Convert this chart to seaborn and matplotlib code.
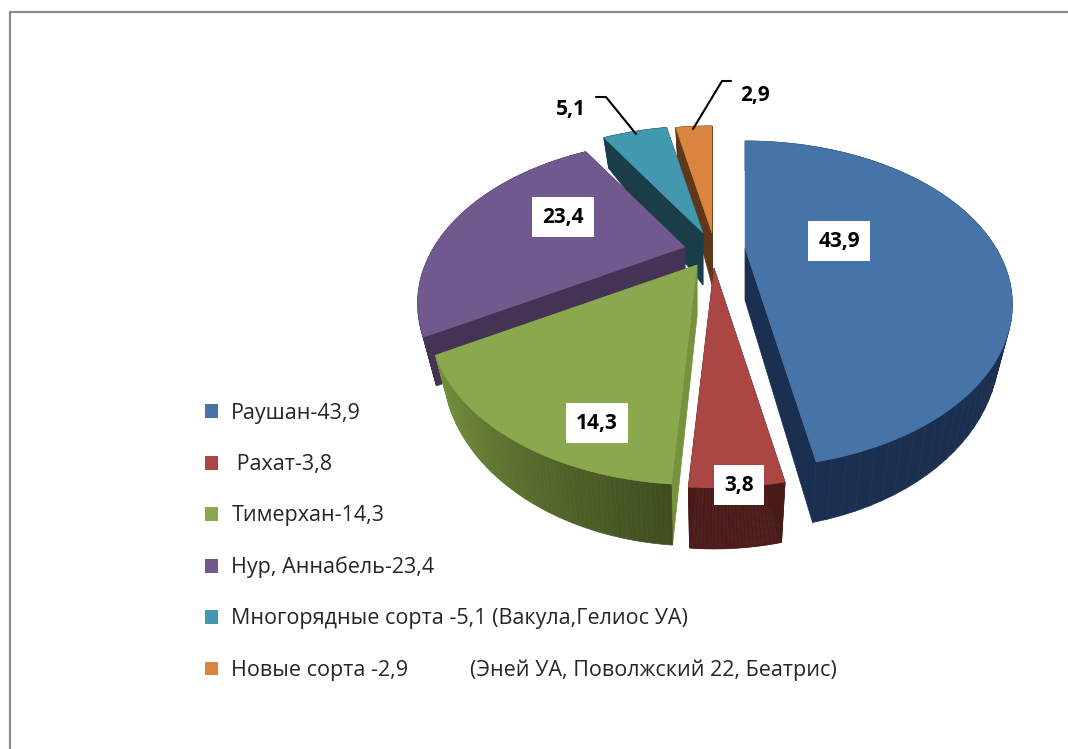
# encoding=utf-8
import numpy as np
import seaborn as sns
import matplotlib
matplotlib.use("Agg")
import matplotlib.pyplot as plt
from matplotlib.patches import Patch

# data
categories = ["Раушан", "Рахат", "Тимерхан", "Нур, Аннабель", "Многорядные сорта", "Новые сорта"]
values = [43.9, 3.8, 14.3, 23.4, 5.1, 2.9]
value_labels = ["43,9", "3,8", "14,3", "23,4", "5,1", "2,9"]
legend_labels = ["Раушан-43,9", " Рахат-3,8", "Тимерхан-14,3", "Нур, Аннабель-23,4",
                 "Многорядные сорта -5,1 (Вакула,Гелиос УА)",
                 "Новые сорта -2,9           (Эней УА, Поволжский 22, Беатрис)"]

# colours
top_colors = ["#4673A8", "#AA4643", "#8BA84F", "#71588F", "#4198AF", "#DB843D"]
face_colors = ["#1B3050", "#4A1A18", "#76923C", "#443355", "#1A3D4A", "#5E3818"]
wall_left = ["#1B3050", "#4A1A18", "#76923C", "#443355", "#1A3D4A", "#5E3818"]
wall_right = ["#1B3050", "#4A1A18", "#3F4D20", "#443355", "#1A3D4A", "#5E3818"]

# layout, in pixels of the picture
center = (700, 250)
explode = [(45, -2), (14, 18), (-3, 15), (-15, -3), (3, -17), (12, -17)]
Rx, Ry, persp = 251, 144, 0.345
depth, apex_depth = 40, 52
shrink = 0.95

sns.set_theme(style="white")
plt.rcParams["font.family"] = ["Open Sans", "DejaVu Sans"]

fig, ax = plt.subplots(figsize=(10.68, 7.49), dpi=100)
fig.subplots_adjust(0, 0, 1, 1)
ax.set_xlim(0, 1068)
ax.set_ylim(749, 0)
ax.axis("off")

# frame of the slide
ax.plot([10, 10, 1068], [749, 12, 12], color="#8C8C8C", lw=1.6, solid_joinstyle="miter")


def rim(theta, ox, oy, low=False):
    # perspective projection of a rim point of the disk
    u, v = np.sin(theta), np.cos(theta)
    d = 1 + persp * v
    x, y = Rx * u / d, -Ry * v / d
    if low:
        return ox + x * shrink, oy + y + depth / d
    return ox + x, oy + y


edges = np.deg2rad(np.concatenate([[0], np.cumsum(values)]) / np.sum(values) * 360)

# back slices first, front ones over them
for i in [5, 4, 0, 3, 1, 2]:
    ox, oy = center[0] + explode[i][0], center[1] + explode[i][1]
    th = np.linspace(edges[i], edges[i + 1], 70)
    tx, ty = rim(th, ox, oy)
    bx, by = rim(th, ox, oy, low=True)

    # the two cut faces
    for k in [0, -1]:
        ax.fill([ox, tx[k], bx[k], ox], [oy, ty[k], by[k], oy + apex_depth],
                color=face_colors[i], lw=0.5)

    # outer wall as thin shaded strips
    shades = sns.blend_palette([wall_left[i], wall_right[i]], len(th) - 1)
    shades = shades[::-1]
    for j in range(len(th) - 1):
        ax.fill([tx[j], tx[j + 1], bx[j + 1], bx[j]], [ty[j], ty[j + 1], by[j + 1], by[j]],
                color=shades[j], lw=0.5)

    # top of the slice
    ax.fill(np.r_[ox, tx], np.r_[oy, ty], color=top_colors[i], lw=0.3)

# labels in white boxes
label_pos = [(839, 241), (739, 485), (597, 423), (563, 217)]
for i, (x, y) in enumerate(label_pos):
    ax.text(x, y, value_labels[i], ha="center", va="center", fontsize=15, fontweight="bold",
            color="black", bbox=dict(facecolor="white", edgecolor="none", pad=7))
ax.text(571, 110, value_labels[4], ha="center", va="center", fontsize=15, fontweight="bold", color="black")
ax.text(755, 95, value_labels[5], ha="center", va="center", fontsize=15, fontweight="bold", color="black")

# leader lines
ax.plot([596, 606, 636], [97, 97, 134], color="black", lw=1.5)
ax.plot([731, 722, 693], [81, 81, 129], color="black", lw=1.5)

handles = [Patch(facecolor=c, edgecolor="none") for c in top_colors]
ax.legend(handles, legend_labels, loc="upper left", bbox_to_anchor=(205, 403),
          bbox_transform=ax.transData, frameon=False, fontsize=15.5,
          handlelength=0.62, handleheight=0.62, handletextpad=0.6, labelspacing=1.4,
          borderpad=0, borderaxespad=0, labelcolor="#262626")

plt.savefig("out.png", dpi=100)
